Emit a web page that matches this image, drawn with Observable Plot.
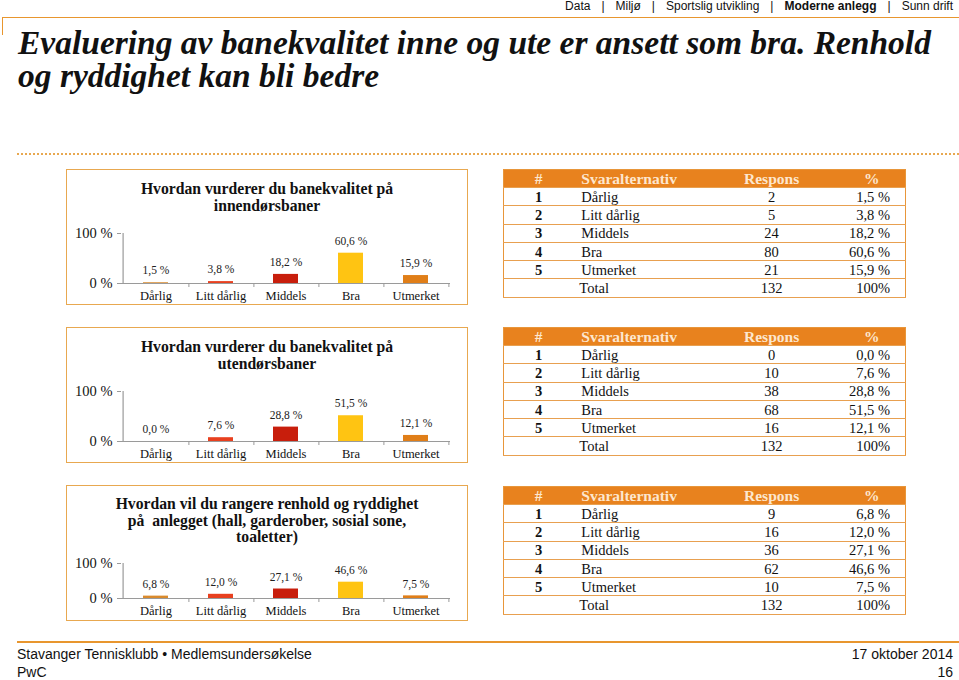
<!DOCTYPE html>
<html><head><meta charset="utf-8">
<script src="https://cdn.jsdelivr.net/npm/d3@7"></script>
<script src="https://cdn.jsdelivr.net/npm/@observablehq/plot@0.6"></script>
<style>
body{margin:0;background:#fff;}
#page{position:relative;width:959px;height:680px;overflow:hidden;font-family:"Liberation Serif",serif;color:#111;}
.abs{position:absolute;}
#nav{right:6px;top:0px;font:12px/13px "Liberation Sans",Arial,sans-serif;color:#111;white-space:nowrap;}
#nav span.sep{margin:0 11px;}
#topline{left:2px;top:17px;width:957px;height:0;border-top:1.5px solid #e8962e;}
#topvert{left:2px;top:17px;width:0;height:18px;border-left:1.5px solid #e8962e;}
#title{left:18px;top:26px;font:italic bold 33.5px/33px "Liberation Serif",serif;color:#111;white-space:nowrap;}
#dots{left:17px;top:153px;width:942px;height:0;border-top:2px dotted #e8a850;}
.box{left:66px;width:400px;height:134px;border:1.5px solid #e8a850;}
.ctitle{left:66px;width:402px;text-align:center;font:bold 15.7px/16.5px "Liberation Serif",serif;color:#111;}
table.t{position:absolute;left:503px;width:403px;border-collapse:collapse;font:14.5px "Liberation Serif",serif;color:#111;border:1.5px solid #e8963a;}
table.t td,table.t th{padding:0;height:17.3px;border-bottom:1px solid #e8a050;line-height:16px;}
table.t th{background:#e8821e;color:#fde7cf;font-weight:bold;font-size:15.5px;height:17px;}
#footline{left:17px;top:641px;width:942px;height:0;border-top:2px solid #e8962e;}
.foot{font:14px "Liberation Sans",Arial,sans-serif;color:#111;white-space:nowrap;}
</style></head>
<body><div id="page"></div>
<script>
// ---------- data ----------
const categories = ["Dårlig", "Litt dårlig", "Middels", "Bra", "Utmerket"];
const barColors = ["#d98a2c", "#e8401f", "#c81e0c", "#ffc412", "#e07e18"];
const innePct = [1.5, 3.8, 18.2, 60.6, 15.9];
const inneResp = [2, 5, 24, 80, 21];
const utePct = [0.0, 7.6, 28.8, 51.5, 12.1];
const uteResp = [0, 10, 38, 68, 16];
const renholdPct = [6.8, 12.0, 27.1, 46.6, 7.5];
const renholdResp = [9, 16, 36, 62, 10];
const totalResp = 132;
const yTicks = [0, 100];
const chartTitles = [
  ["Hvordan vurderer du banekvalitet på", "innendørsbaner"],
  ["Hvordan vurderer du banekvalitet på", "utendørsbaner"],
  ["Hvordan vil du rangere renhold og ryddighet", "på&nbsp; anlegget (hall, garderober, sosial sone,", "toaletter)"]
];
const tableHeader = ["#", "Svaralternativ", "Respons", "%"];
const navItems = ["Data", "Miljø", "Sportslig utvikling", "Moderne anlegg", "Sunn drift"];
const mainTitle = ["Evaluering av banekvalitet inne og ute er ansett som bra. Renhold", "og ryddighet kan bli bedre"];

// ---------- layout ----------
const layouts = [
  {boxTop: 169, titleTop: 181, plotTop: 233, plotBottom: 283, tableTop: 169},
  {boxTop: 327, titleTop: 339, plotTop: 391, plotBottom: 441, tableTop: 327},
  {boxTop: 485, titleTop: 496, plotTop: 563, plotBottom: 598, tableTop: 486}
];
const series = [[innePct, inneResp], [utePct, uteResp], [renholdPct, renholdResp]];

const page = document.getElementById("page");
function add(html) { page.insertAdjacentHTML("beforeend", html); }
const fmt = v => v.toFixed(1).replace(".", ",") + " %";

// header
add(`<div id="nav" class="abs">${navItems.map((n, i) => (i ? '<span class="sep">|</span>' : '') + (n === "Moderne anlegg" ? `<b>${n}</b>` : n)).join("")}</div>`);
add(`<div id="topline" class="abs"></div><div id="topvert" class="abs"></div>`);
add(`<div id="title" class="abs">${mainTitle.join("<br>")}</div>`);
add(`<div id="dots" class="abs"></div>`);

const axisLeft = 121, axisRight = 450, svgLeft = 66, svgWidth = 402;
const bw = (axisRight - axisLeft) / categories.length;

series.forEach(([pct, resp], k) => {
  const L = layouts[k];
  add(`<div class="abs box" style="top:${L.boxTop}px"></div>`);
  add(`<div class="abs ctitle" style="top:${L.titleTop}px">${chartTitles[k].join("<br>")}</div>`);
  const data = categories.map((c, i) => ({cat: c, pct: pct[i]}));
  const mt = 16, mb = 26;
  const svg = Plot.plot({
    width: svgWidth,
    height: (L.plotBottom - L.plotTop) + mt + mb,
    marginLeft: axisLeft - svgLeft,
    marginRight: svgLeft + svgWidth - axisRight,
    marginTop: mt,
    marginBottom: mb,
    style: {fontFamily: "Liberation Serif", background: "transparent", overflow: "visible"},
    x: {type: "band", domain: categories, padding: 0},
    y: {domain: [0, 100]},
    color: {domain: categories, range: barColors},
    marks: [
      Plot.barY(data, {x: "cat", y: "pct", fill: "cat", insetLeft: 20, insetRight: 20}),
      Plot.ruleY([0], {stroke: "#9a9a9a", strokeWidth: 1.2}),
      Plot.ruleX([categories[0]], {y1: 0, y2: 100, dx: -bw / 2, stroke: "#9a9a9a", strokeWidth: 1.2}),
      Plot.ruleX(categories, {y1: 0, y2: 0, dx: bw / 2, insetBottom: -4, stroke: "#9a9a9a"}),
      Plot.axisY({ticks: yTicks, tickFormat: d => d + " %", tickSize: 4, tickPadding: 5, fontSize: 14.5, stroke: "#9a9a9a", fill: "#111", label: null}),
      Plot.axisX({tickSize: 0, tickPadding: 8, fontSize: 12.5, fill: "#111", label: null}),
      Plot.text(data, {x: "cat", y: "pct", text: d => fmt(d.pct), dy: -12, fontSize: 11.5, fill: "#222"})
    ]
  });
  svg.style.position = "absolute";
  svg.style.left = svgLeft + "px";
  svg.style.top = (L.plotTop - mt) + "px";
  page.appendChild(svg);

  // table
  let rows = `<tr><th style="width:70px">${tableHeader[0]}</th><th style="width:132px;text-align:left;padding-left:8px">${tableHeader[1]}</th><th style="width:118px">${tableHeader[2]}</th><th style="width:67px;padding-left:8px">${tableHeader[3]}</th></tr>`;
  categories.forEach((c, i) => {
    rows += `<tr><td style="text-align:center;font-weight:bold">${i + 1}</td><td style="padding-left:8px">${c}</td><td style="text-align:center">${resp[i]}</td><td style="text-align:right;padding-right:15px">${fmt(pct[i])}</td></tr>`;
  });
  rows += `<tr><td></td><td style="padding-left:6px">Total</td><td style="text-align:center">${totalResp}</td><td style="text-align:right;padding-right:15px">100%</td></tr>`;
  add(`<table class="t" style="top:${L.tableTop}px">${rows}</table>`);
});

// footer
add(`<div id="footline" class="abs"></div>`);
add(`<div class="abs foot" style="left:17px;top:646px">Stavanger Tennisklubb • Medlemsundersøkelse</div>`);
add(`<div class="abs foot" style="left:17px;top:664px">PwC</div>`);
add(`<div class="abs foot" style="right:6px;top:646px">17 oktober 2014</div>`);
add(`<div class="abs foot" style="right:6px;top:664px">16</div>`);
</script>
</body></html>
